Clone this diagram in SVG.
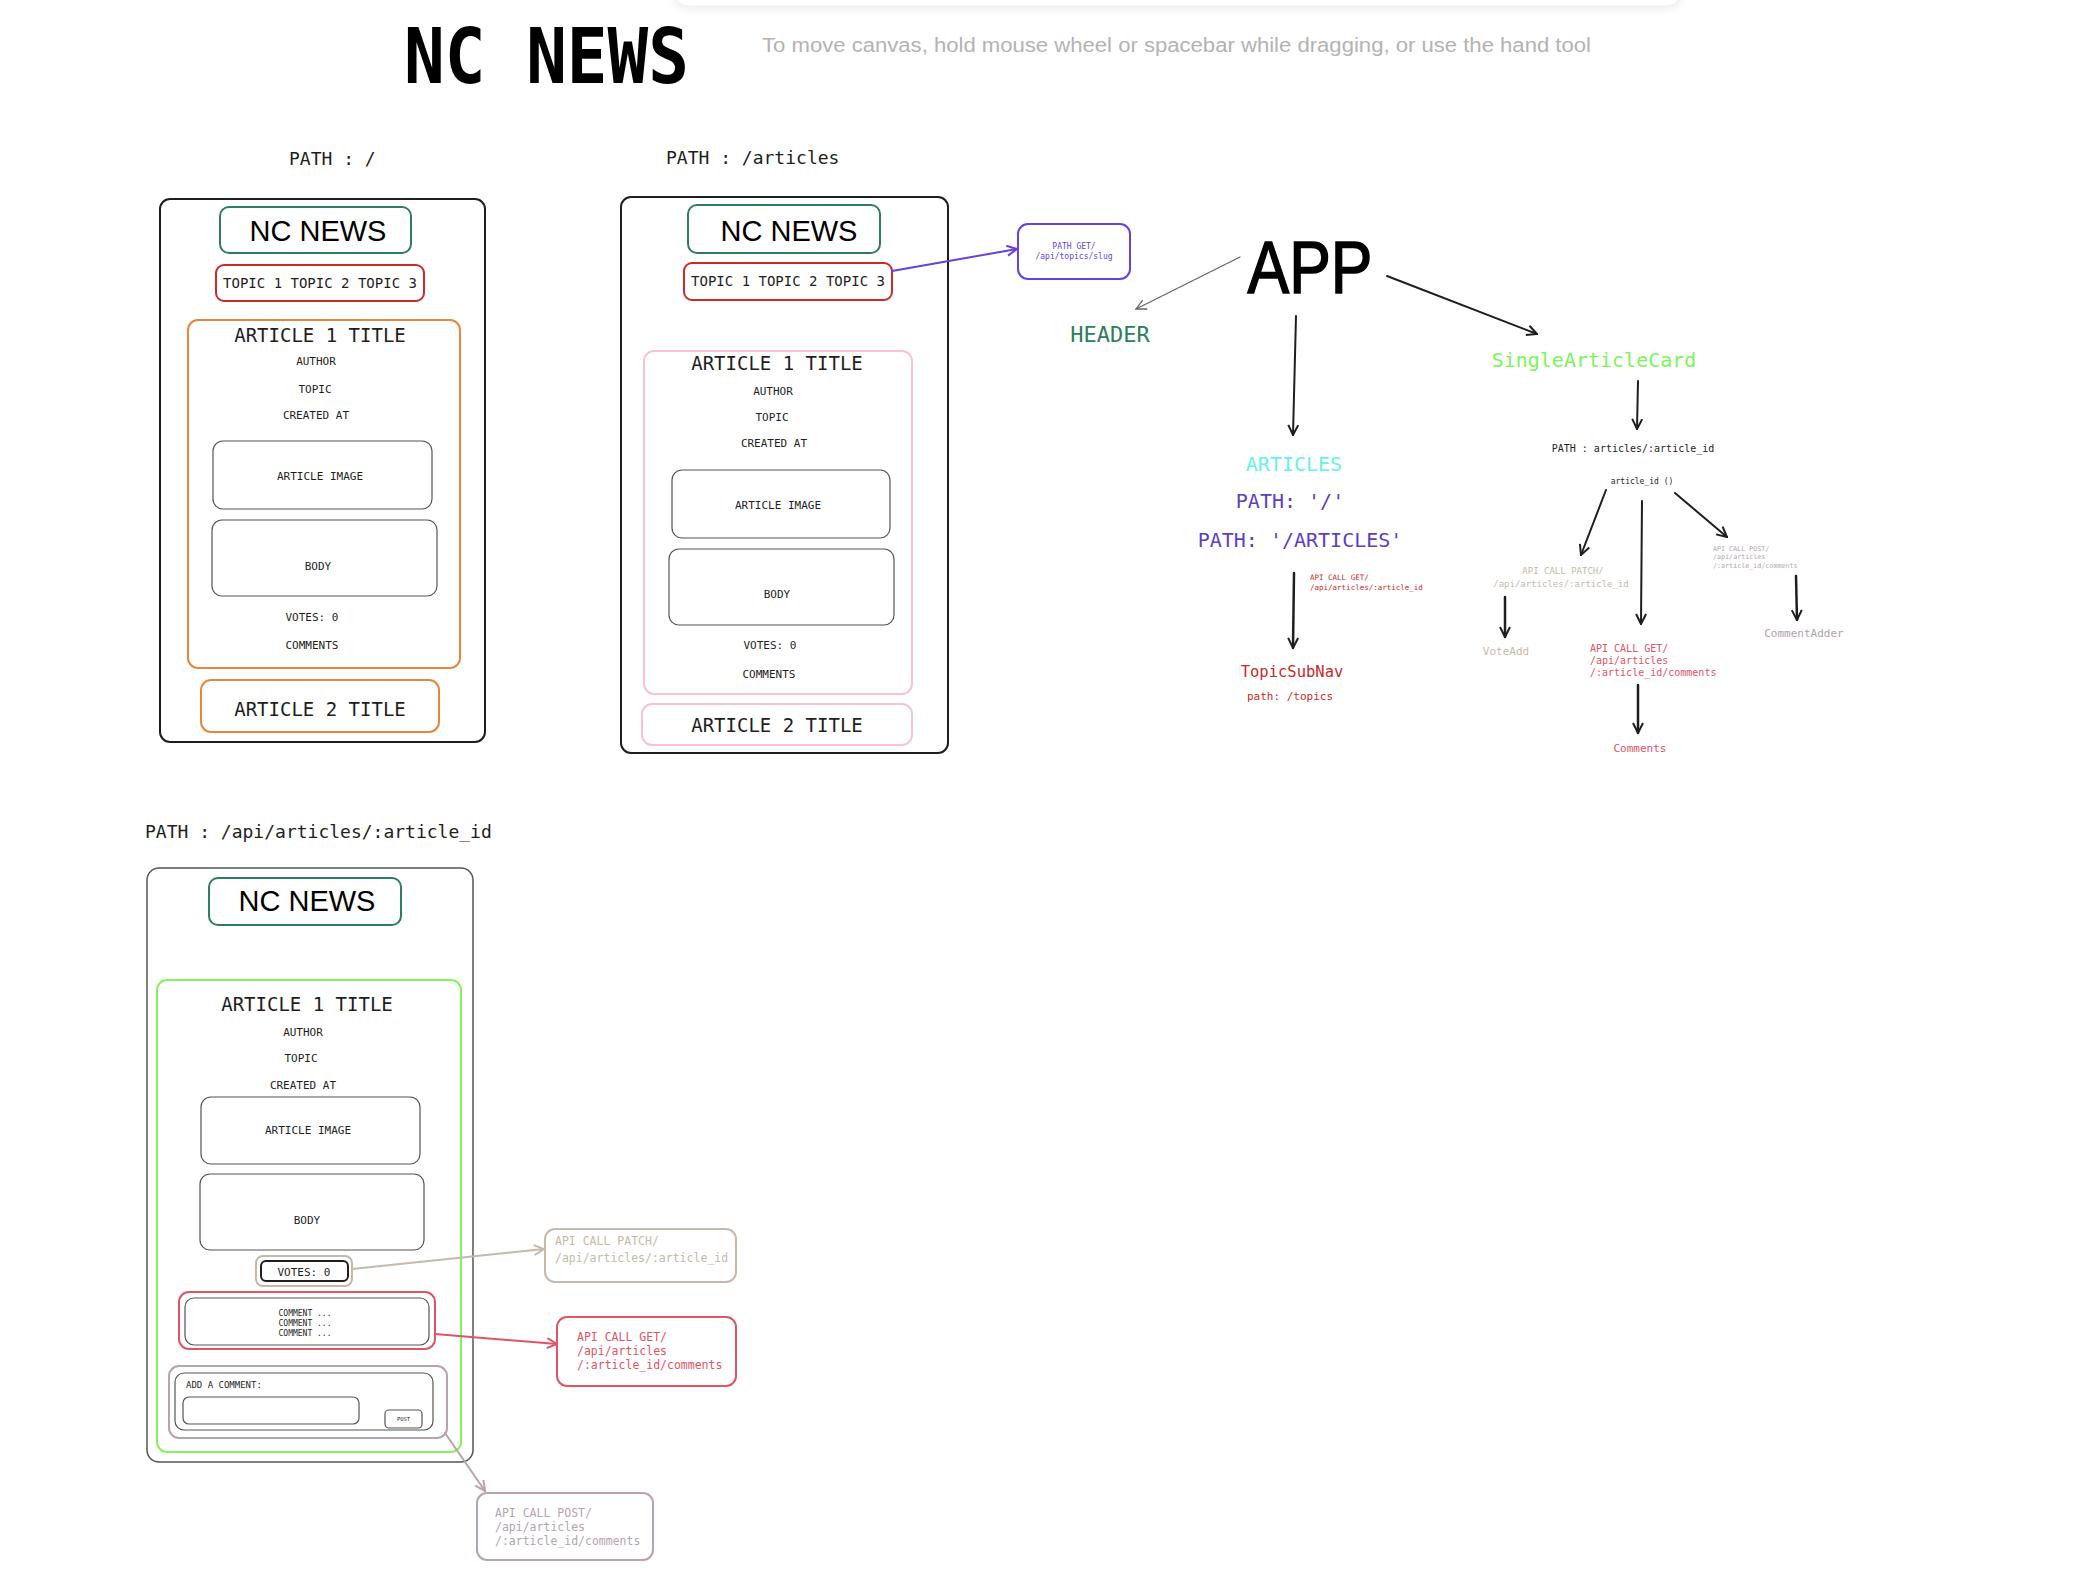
<svg xmlns="http://www.w3.org/2000/svg" width="2090" height="1594" viewBox="0 0 2090 1594">
<defs>
<style>
.m{font-family:"DejaVu Sans Mono","Liberation Mono",monospace;fill:#1e1e1e}
.s{font-family:"Liberation Sans",Arial,sans-serif;fill:#1e1e1e}
.c{text-anchor:middle}
.frame{fill:none;stroke:#1e1e1e;stroke-width:2}
.hdr{fill:none;stroke:#2f7d5c;stroke-width:2}
.top{fill:none;stroke:#c92a2a;stroke-width:2}
.gry{fill:none;stroke:#555;stroke-width:1.2}
.org{fill:none;stroke:#e8863a;stroke-width:2}
.pnk{fill:none;stroke:#f8c4d0;stroke-width:2}
.lim{fill:none;stroke:#82f55a;stroke-width:2}
.tan{fill:none;stroke:#c8b8a8;stroke-width:2}
.rd{fill:none;stroke:#e05565;stroke-width:2}
.mv{fill:none;stroke:#b8a2b2;stroke-width:2}
.pur{fill:none;stroke:#6741d9;stroke-width:2}
.t19{font-size:19px}
.t11{font-size:11px}
.t14{font-size:14px}
.nc{font-size:29px;fill:#000}
</style>
<marker id="ak" viewBox="0 0 12 12" refX="11" refY="6" markerWidth="12" markerHeight="12" markerUnits="userSpaceOnUse" orient="auto"><path d="M1,1 L11,6 L1,11" fill="none" stroke="#1e1e1e" stroke-width="2"/></marker>
<marker id="ag" viewBox="0 0 12 12" refX="11" refY="6" markerWidth="12" markerHeight="12" markerUnits="userSpaceOnUse" orient="auto"><path d="M1,1 L11,6 L1,11" fill="none" stroke="#666" stroke-width="1.3"/></marker>
<marker id="ap" viewBox="0 0 12 12" refX="11" refY="6" markerWidth="12" markerHeight="12" markerUnits="userSpaceOnUse" orient="auto"><path d="M1,1 L11,6 L1,11" fill="none" stroke="#6741d9" stroke-width="2"/></marker>
<marker id="at" viewBox="0 0 12 12" refX="11" refY="6" markerWidth="12" markerHeight="12" markerUnits="userSpaceOnUse" orient="auto"><path d="M1,1 L11,6 L1,11" fill="none" stroke="#c8b8a8" stroke-width="2"/></marker>
<marker id="ar" viewBox="0 0 12 12" refX="11" refY="6" markerWidth="12" markerHeight="12" markerUnits="userSpaceOnUse" orient="auto"><path d="M1,1 L11,6 L1,11" fill="none" stroke="#e05565" stroke-width="2"/></marker>
<marker id="am" viewBox="0 0 12 12" refX="11" refY="6" markerWidth="12" markerHeight="12" markerUnits="userSpaceOnUse" orient="auto"><path d="M1,1 L11,6 L1,11" fill="none" stroke="#b8a2b2" stroke-width="2"/></marker>
<filter id="sh" x="-5%" y="-50%" width="110%" height="300%"><feDropShadow dx="0" dy="2" stdDeviation="5" flood-color="#000" flood-opacity="0.08"/></filter>
</defs>
<rect width="2090" height="1594" fill="#fff"/>
<rect x="675" y="-30" width="1005" height="36" rx="12" fill="#fff" stroke="#ececec" filter="url(#sh)"/>
<text class="m" x="404" y="83" font-size="77" font-weight="bold" textLength="285" lengthAdjust="spacingAndGlyphs" style="fill:#000">NC NEWS</text>
<text class="s" x="762" y="52" font-size="20" style="fill:#b3b3b3" textLength="829" lengthAdjust="spacingAndGlyphs">To move canvas, hold mouse wheel or spacebar while dragging, or use the hand tool</text>

<g id="page-home">
<text class="m" x="289" y="165" font-size="18">PATH : /</text>
<rect class="frame" x="160" y="199" width="325" height="543" rx="10"/>
<rect class="hdr" x="220" y="207" width="191" height="46" rx="9"/>
<text class="s c nc" x="318" y="241">NC NEWS</text>
<rect class="top" x="216" y="265" width="208" height="36" rx="8"/>
<text class="m c t14" x="320" y="288">TOPIC 1 TOPIC 2 TOPIC 3</text>
<rect class="org" x="188" y="320" width="272" height="348" rx="10"/>
<text class="m c t19" x="320" y="342">ARTICLE 1 TITLE</text>
<text class="m c t11" x="316" y="365">AUTHOR</text>
<text class="m c t11" x="315" y="393">TOPIC</text>
<text class="m c t11" x="316" y="419">CREATED AT</text>
<rect class="gry" x="213" y="441" width="219" height="68" rx="10"/>
<text class="m c t11" x="320" y="480">ARTICLE IMAGE</text>
<rect class="gry" x="212" y="520" width="225" height="76" rx="10"/>
<text class="m c t11" x="318" y="570">BODY</text>
<text class="m c t11" x="312" y="621">VOTES: 0</text>
<text class="m c t11" x="312" y="649">COMMENTS</text>
<rect class="org" x="201" y="680" width="238" height="52" rx="10"/>
<text class="m c t19" x="320" y="716">ARTICLE 2 TITLE</text>
</g>

<g id="page-articles">
<text class="m" x="666" y="164" font-size="18">PATH : /articles</text>
<rect class="frame" x="621" y="197" width="327" height="556" rx="10"/>
<rect class="hdr" x="688" y="205" width="192" height="48" rx="9"/>
<text class="s c nc" x="789" y="241">NC NEWS</text>
<rect class="top" x="684" y="263" width="208" height="37" rx="8"/>
<text class="m c t14" x="788" y="286">TOPIC 1 TOPIC 2 TOPIC 3</text>
<rect class="pnk" x="644" y="351" width="268" height="343" rx="10"/>
<text class="m c t19" x="777" y="370">ARTICLE 1 TITLE</text>
<text class="m c t11" x="773" y="395">AUTHOR</text>
<text class="m c t11" x="772" y="421">TOPIC</text>
<text class="m c t11" x="774" y="447">CREATED AT</text>
<rect class="gry" x="672" y="470" width="218" height="68" rx="10"/>
<text class="m c t11" x="778" y="509">ARTICLE IMAGE</text>
<rect class="gry" x="669" y="549" width="225" height="76" rx="10"/>
<text class="m c t11" x="777" y="598">BODY</text>
<text class="m c t11" x="770" y="649">VOTES: 0</text>
<text class="m c t11" x="769" y="678">COMMENTS</text>
<rect class="pnk" x="642" y="704" width="270" height="41" rx="10"/>
<text class="m c t19" x="777" y="732">ARTICLE 2 TITLE</text>
</g>

<g id="topics-api">
<rect class="pur" x="1018" y="224" width="112" height="55" rx="10"/>
<text class="m c" x="1074" y="249" font-size="8" style="fill:#6741d9">PATH GET/</text>
<text class="m c" x="1074" y="259" font-size="8" style="fill:#6741d9">/api/topics/slug</text>
</g>

<g id="app"><text class="s c" x="1310" y="293" font-size="74" textLength="125" lengthAdjust="spacingAndGlyphs" style="fill:#000;stroke:#000;stroke-width:1.5">APP</text></g>
<g id="header"><text class="m c" x="1110" y="342" font-size="22" style="fill:#2f7d5c">HEADER</text></g>
<g id="articles">
<text class="m c" x="1294" y="471" font-size="20" style="fill:#66f0f5">ARTICLES</text>
<text class="m c" x="1290" y="508" font-size="20" style="fill:#5f3dc4">PATH: '/'</text>
<text class="m c" x="1300" y="547" font-size="20" style="fill:#5f3dc4">PATH: '/ARTICLES'</text>
</g>
<g id="articles-api">
<text class="m" x="1310" y="580" font-size="7.5" style="fill:#c92a2a">API CALL GET/</text>
<text class="m" x="1310" y="590" font-size="7.5" style="fill:#c92a2a">/api/articles/:article_id</text>
</g>
<g id="topicsubnav">
<text class="m c" x="1292" y="677" font-size="15.5" style="fill:#c92a2a">TopicSubNav</text>
<text class="m c" x="1290" y="700" font-size="11" style="fill:#c92a2a">path: /topics</text>
</g>
<g id="singlearticlecard"><text class="m c" x="1594" y="367" font-size="20" style="fill:#7cf55a">SingleArticleCard</text></g>
<g id="sac-path"><text class="m c" x="1633" y="452" font-size="10">PATH : articles/:article_id</text></g>
<g id="article-id"><text class="m c" x="1642" y="484" font-size="8">article_id ()</text></g>
<g id="patch-api">
<text class="m c" x="1563" y="574" font-size="9" style="fill:#c8b8a8">API CALL PATCH/</text>
<text class="m c" x="1561" y="587" font-size="9" style="fill:#c8b8a8">/api/articles/:article_id</text>
</g>
<g id="voteadd"><text class="m c" x="1506" y="655" font-size="11" style="fill:#c8b8a8">VoteAdd</text></g>
<g id="post-api">
<text class="m" x="1713" y="551" font-size="6.7" style="fill:#b8a2b2">API CALL POST/</text>
<text class="m" x="1713" y="559" font-size="6.7" style="fill:#b8a2b2">/api/articles</text>
<text class="m" x="1713" y="568" font-size="6.7" style="fill:#b8a2b2">/:article_id/comments</text>
</g>
<g id="commentadder"><text class="m c" x="1804" y="637" font-size="11" style="fill:#b0a0ac">CommentAdder</text></g>
<g id="get-comments-api">
<text class="m" x="1590" y="652" font-size="10" style="fill:#e05565">API CALL GET/</text>
<text class="m" x="1590" y="664" font-size="10" style="fill:#e05565">/api/articles</text>
<text class="m" x="1590" y="676" font-size="10" style="fill:#e05565">/:article_id/comments</text>
</g>
<g id="comments"><text class="m c" x="1640" y="752" font-size="11" style="fill:#e05565">Comments</text></g>

<g id="page-single">
<text class="m" x="145" y="838" font-size="18">PATH : /api/articles/:article_id</text>
<rect x="147" y="868" width="326" height="594" rx="12" fill="none" stroke="#555" stroke-width="1.5"/>
<rect class="hdr" x="209" y="878" width="192" height="47" rx="9"/>
<text class="s c nc" x="307" y="911">NC NEWS</text>
<rect class="lim" x="157" y="980" width="304" height="472" rx="10"/>
<text class="m c t19" x="307" y="1011">ARTICLE 1 TITLE</text>
<text class="m c t11" x="303" y="1036">AUTHOR</text>
<text class="m c t11" x="301" y="1062">TOPIC</text>
<text class="m c t11" x="303" y="1089">CREATED AT</text>
<rect class="gry" x="201" y="1097" width="219" height="67" rx="10"/>
<text class="m c t11" x="308" y="1134">ARTICLE IMAGE</text>
<rect class="gry" x="200" y="1174" width="224" height="76" rx="10"/>
<text class="m c t11" x="307" y="1224">BODY</text>
<rect class="tan" x="256" y="1256" width="96" height="30" rx="7"/>
<rect x="261" y="1261" width="87" height="20" rx="5" fill="none" stroke="#1e1e1e" stroke-width="2"/>
<text class="m c t11" x="304" y="1276">VOTES: 0</text>
<rect class="rd" x="179" y="1292" width="256" height="57" rx="10"/>
<rect class="gry" x="185" y="1298" width="244" height="47" rx="9"/>
<text class="m c" x="305" y="1316" font-size="8">COMMENT ...</text>
<text class="m c" x="305" y="1326" font-size="8">COMMENT ...</text>
<text class="m c" x="305" y="1336" font-size="8">COMMENT ...</text>
<rect class="mv" x="169" y="1366" width="278" height="72" rx="10"/>
<rect class="gry" x="175" y="1373" width="258" height="57" rx="9"/>
<text class="m" x="186" y="1388" font-size="9">ADD A COMMENT:</text>
<rect class="gry" x="183" y="1397" width="176" height="27" rx="6"/>
<rect class="gry" x="385" y="1410" width="37" height="18" rx="4"/>
<text class="m c" x="403.5" y="1421" font-size="5.5">POST</text>
</g>

<g id="patch-box">
<rect class="tan" x="545" y="1229" width="191" height="53" rx="10"/>
<text class="m" x="555" y="1245" font-size="11.5" style="fill:#c8b8a8">API CALL PATCH/</text>
<text class="m" x="555" y="1262" font-size="11.5" style="fill:#c8b8a8">/api/articles/:article_id</text>
</g>
<g id="get-box">
<rect class="rd" x="557" y="1317" width="179" height="69" rx="10"/>
<text class="m" x="577" y="1341" font-size="11.5" style="fill:#e05565">API CALL GET/</text>
<text class="m" x="577" y="1355" font-size="11.5" style="fill:#e05565">/api/articles</text>
<text class="m" x="577" y="1369" font-size="11.5" style="fill:#e05565">/:article_id/comments</text>
</g>
<g id="post-box">
<rect class="mv" x="477" y="1493" width="176" height="67" rx="10"/>
<text class="m" x="495" y="1517" font-size="11.5" style="fill:#b8a2b2">API CALL POST/</text>
<text class="m" x="495" y="1531" font-size="11.5" style="fill:#b8a2b2">/api/articles</text>
<text class="m" x="495" y="1545" font-size="11.5" style="fill:#b8a2b2">/:article_id/comments</text>
</g>

<g id="connectors" fill="none" stroke-linecap="round">
<line x1="892" y1="271" x2="1017" y2="249" stroke="#6741d9" stroke-width="2" marker-end="url(#ap)"/>
<line x1="1240" y1="257" x2="1136" y2="309" stroke="#666" stroke-width="1.3" marker-end="url(#ag)"/>
<line x1="1296" y1="316" x2="1293" y2="435" stroke="#1e1e1e" stroke-width="2" marker-end="url(#ak)"/>
<line x1="1387" y1="276" x2="1537" y2="334" stroke="#1e1e1e" stroke-width="2" marker-end="url(#ak)"/>
<line x1="1294" y1="573" x2="1293" y2="648" stroke="#1e1e1e" stroke-width="2.5" marker-end="url(#ak)"/>
<line x1="1638" y1="381" x2="1637" y2="429" stroke="#1e1e1e" stroke-width="2" marker-end="url(#ak)"/>
<line x1="1606" y1="490" x2="1581" y2="555" stroke="#1e1e1e" stroke-width="2" marker-end="url(#ak)"/>
<line x1="1642" y1="501" x2="1641" y2="624" stroke="#1e1e1e" stroke-width="2" marker-end="url(#ak)"/>
<line x1="1675" y1="493" x2="1727" y2="537" stroke="#1e1e1e" stroke-width="2" marker-end="url(#ak)"/>
<line x1="1505" y1="597" x2="1505" y2="637" stroke="#1e1e1e" stroke-width="2.5" marker-end="url(#ak)"/>
<line x1="1796" y1="576" x2="1797" y2="620" stroke="#1e1e1e" stroke-width="2.5" marker-end="url(#ak)"/>
<line x1="1638" y1="685" x2="1638" y2="733" stroke="#1e1e1e" stroke-width="2.5" marker-end="url(#ak)"/>
<line x1="352" y1="1269" x2="544" y2="1249" stroke="#c8b8a8" stroke-width="2" marker-end="url(#at)"/>
<line x1="435" y1="1334" x2="557" y2="1344" stroke="#e05565" stroke-width="2" marker-end="url(#ar)"/>
<line x1="445" y1="1433" x2="485" y2="1491" stroke="#b8a2b2" stroke-width="2" marker-end="url(#am)"/>
</g>
</svg>
